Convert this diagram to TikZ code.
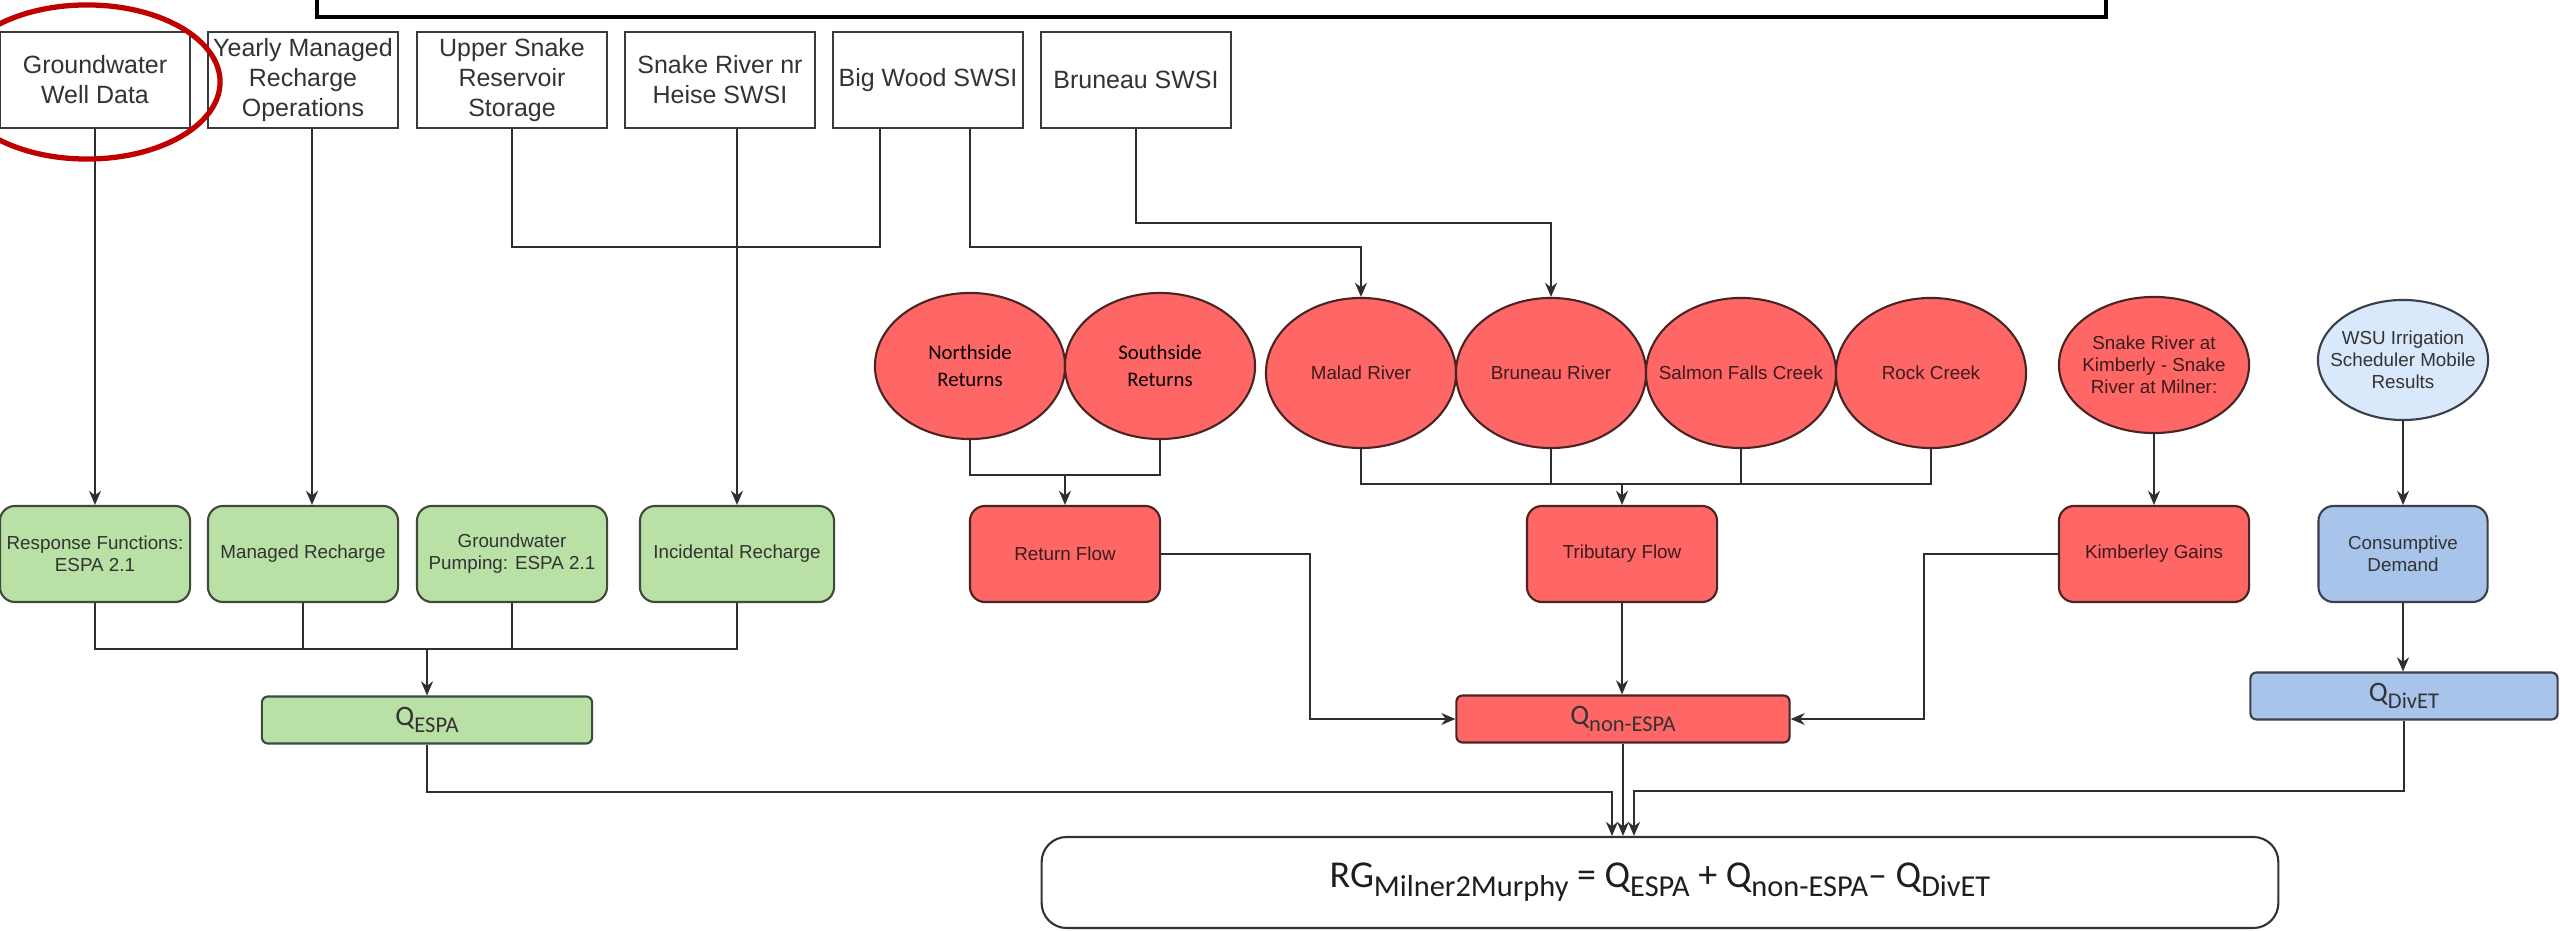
\documentclass[tikz,border=0pt]{standalone}
\usepackage{fontspec}
\setmainfont{Liberation Sans}
\newfontfamily\calib{Carlito}
\usetikzlibrary{shapes.geometric,arrows.meta,calc}

\definecolor{boxline}{HTML}{3A3A3A}
\definecolor{txt}{HTML}{333333}
\definecolor{gfill}{HTML}{B9E0A5}
\definecolor{gline}{HTML}{3F4A3C}
\definecolor{rfill}{HTML}{FF6666}
\definecolor{rline}{HTML}{4A2424}
\definecolor{rtxt}{HTML}{3A1C1C}
\definecolor{bfill}{HTML}{A9C4EB}
\definecolor{lbfill}{HTML}{DAE8FC}
\definecolor{bline}{HTML}{3A3F4A}
\definecolor{conn}{HTML}{2E2E2E}
\definecolor{finline}{HTML}{333333}
\definecolor{ftxt}{HTML}{1E1E1E}
\definecolor{circ}{HTML}{C00000}

% lowered, smaller subscript text
\newcommand{\lsub}[1]{\raisebox{-0.24em}{\scalebox{0.8}{#1}}}

\tikzset{
  topbox/.style={draw=boxline, fill=white, line width=0.6pt, minimum width=1.9cm,
    minimum height=0.96cm, inner sep=0pt, align=center, text=txt,
    font=\fontsize{7.1}{8.5}\selectfont},
  flowbox/.style={rounded corners=0.15cm, line width=0.6pt, minimum height=0.96cm,
    inner sep=0pt, align=center, font=\fontsize{5.35}{6.2}\selectfont},
  gbox/.style={flowbox, fill=gfill, draw=gline, text=txt, minimum width=1.9cm},
  rbox/.style={flowbox, fill=rfill, draw=rline, text=rtxt, minimum width=1.9cm},
  bbox/.style={flowbox, fill=bfill, draw=bline, text=txt},
  oval/.style={ellipse, line width=0.6pt, inner xsep=-0.5cm, inner ysep=0pt,
    minimum width=1.9cm, minimum height=1.5cm, align=center,
    font=\fontsize{5.35}{6.2}\selectfont},
  rov/.style={oval, fill=rfill, draw=rline, text=rtxt},
  calibtxt/.style={font=\calib\fontsize{5.9}{7.6}\selectfont, text=black},
  qbox/.style={rounded corners=0.06cm, line width=0.6pt, minimum height=0.47cm,
    inner sep=0pt, text=txt, font=\calib\fontsize{8}{9.6}\selectfont},
  ln/.style={draw=conn, line width=0.55pt},
  arr/.style={ln, -{Stealth[length=4pt,width=3.4pt]}},
}

\begin{document}
\begin{tikzpicture}[x=0.01cm, y=-0.01cm]
\useasboundingbox (0,0) rectangle (2560,931);
\clip (0,0) rectangle (2560,931);
\fill[white] (0,0) rectangle (2560,931);

% banner frame along the top edge
\draw[line width=0.9pt, black] (317,-30) rectangle (2106,17);

% data sources
\node[topbox] (gw)      at (95,80)   {Groundwater\\Well Data};
\node[topbox] (yearly)  at (303,80)  {Yearly Managed\\Recharge\\Operations};
\node[topbox] (upper)   at (512,80)  {Upper Snake\\Reservoir\\Storage};
\node[topbox] (heise)   at (720,80)  {Snake River nr\\Heise SWSI};
\node[topbox] (bigwood) at (928,80)  {Big Wood SWSI};
\node[topbox] (brsw)    at (1136,80) {Bruneau SWSI};

% surface water inputs
\node[rov, calibtxt, minimum height=1.46cm] (north) at (970,366)  {Northside\\Returns};
\node[rov, calibtxt, minimum height=1.46cm] (south) at (1160,366) {Southside\\Returns};
\node[rov] (malad)  at (1361,373) {Malad River};
\node[rov] (brriv)  at (1551,373) {Bruneau River};
\node[rov] (salmon) at (1741,373) {Salmon Falls Creek};
\node[rov] (rock)   at (1931,373) {Rock Creek};
\node[rov, minimum height=1.36cm] (kimb) at (2154,365) {Snake River at\\Kimberly - Snake\\River at Milner:};
\node[oval, fill=lbfill, draw=bline, text=txt, minimum width=1.7cm, minimum height=1.2cm]
  (wsu) at (2403,360) {WSU Irrigation\\Scheduler Mobile\\Results};

% components
\node[gbox] (resp)    at (95,554)  {Response Functions:\\ESPA 2.1};
\node[gbox] (managed) at (303,554) {Managed Recharge};
\node[gbox] (pump)    at (512,554) {Groundwater\\Pumping: ESPA 2.1};
\node[gbox, minimum width=1.94cm] (incid) at (737,554) {Incidental Recharge};
\node[rbox] (retflow)  at (1065,554) {Return Flow};
\node[rbox] (tribflow) at (1622,554) {Tributary Flow};
\node[rbox] (kimgain)  at (2154,554) {Kimberley Gains};
\node[bbox, minimum width=1.69cm] (consdem) at (2403,554) {Consumptive\\Demand};

% aggregated terms
\node[qbox, fill=gfill, draw=gline, minimum width=3.3cm]  (qespa)  at (427,720)  {Q\lsub{ESPA}};
\node[qbox, fill=rfill, draw=rline, minimum width=3.33cm] (qnon)   at (1623,719) {Q\lsub{non-ESPA}};
\node[qbox, fill=bfill, draw=bline, minimum width=3.07cm] (qdivet) at (2404,696) {Q\lsub{DivET}};

% reach gain equation
\node[draw=finline, rounded corners=0.25cm, line width=0.6pt, minimum width=12.36cm,
  minimum height=0.91cm, inner sep=0pt, text=ftxt, font=\calib\fontsize{10.8}{13}\selectfont]
  (final) at (1660,882.5)
  {RG\lsub{Milner2Murphy} = Q\lsub{ESPA} + Q\lsub{non-ESPA}– Q\lsub{DivET}};

% connector anchors
\coordinate (bwL) at ([xshift=-0.48cm]bigwood.south);
\coordinate (bwR) at ([xshift=0.42cm]bigwood.south);
\coordinate (gm)  at ([yshift=-0.46cm]resp.south);
\coordinate (nm)  at ([yshift=-0.35cm]north.south);
\coordinate (tm)  at ([yshift=-0.35cm]malad.south);
\coordinate (fin) at (qnon.south |- final.north);

% sources to components
\draw[arr] (gw.south) -- (resp.north);
\draw[arr] ([xshift=0.09cm]yearly.south) -- ([xshift=0.09cm]managed.north);
\draw[ln]  (upper.south) -- ++(0,118) -| (bwL);
\draw[arr] (heise.south -| incid.north) -- (incid.north);
\draw[arr] (bwR) -- ++(0,118) -| (malad.north);
\draw[arr] (brsw.south) -- ++(0,94) -| (brriv.north);

% groundwater components to Q_ESPA
\draw[ln]  (resp.south) -- (gm) -| (incid.south);
\draw[ln]  (managed.south) -- (managed.south |- gm);
\draw[ln]  (pump.south) -- (pump.south |- gm);
\draw[arr] (gm -| qespa.north) -- (qespa.north);

% returns
\draw[ln]  (north.south) -- (nm) -| (south.south);
\draw[arr] (nm -| retflow.north) -- (retflow.north);

% tributaries
\draw[ln]  (malad.south) -- (tm) -| (rock.south);
\draw[ln]  (brriv.south) -- (brriv.south |- tm);
\draw[ln]  (salmon.south) -- (salmon.south |- tm);
\draw[arr] (tm -| tribflow.north) -- (tribflow.north);

% gains and demand
\draw[arr] (kimb.south) -- (kimgain.north);
\draw[arr] (wsu.south) -- (consdem.north);
\draw[arr] (consdem.south) -- (consdem.south |- qdivet.north);

% into Q_non-ESPA
\draw[arr] (retflow.east) -- ++(149,0) |- (qnon.west);
\draw[arr] (kimgain.west) -- ++(-134,0) |- (qnon.east);
\draw[arr] (tribflow.south) -- (tribflow.south |- qnon.north);

% into the equation
\draw[arr] (qespa.south) -- ++(0,47) -| ([xshift=-0.11cm]fin);
\draw[arr] (qnon.south) -- (fin);
\draw[arr] (qdivet.south) -- ++(0,70) -| ([xshift=0.11cm]fin);

% highlight ring
\draw[line width=1.5pt, circ] (87,82) ellipse [x radius=1.33cm, y radius=0.77cm];
\end{tikzpicture}
\end{document}
